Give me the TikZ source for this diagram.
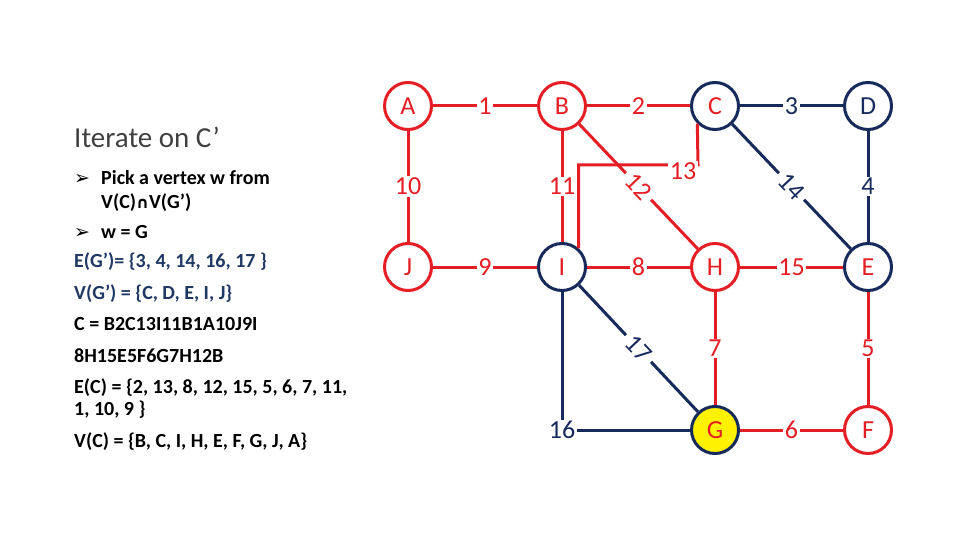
\documentclass[tikz,border=0pt]{standalone}
\usepackage{fontspec}
\setmainfont{Carlito}
\newfontfamily\djv{DejaVu Sans}
\definecolor{gred}{RGB}{228,30,36}
\definecolor{gnavy}{RGB}{22,42,92}
\definecolor{tnavy}{RGB}{31,56,100}
\definecolor{tgray}{RGB}{64,64,64}
\begin{document}
\begin{tikzpicture}[x=1pt,y=-1pt,
  vtx/.style={circle, draw=gred, line width=3pt, fill=white, minimum size=47pt, inner sep=0pt, font=\fontsize{26}{26}\selectfont, text=gred},
  vn/.style={vtx, draw=gnavy},
  rl/.style={draw=gred, line width=3pt},
  nl/.style={draw=gnavy, line width=3pt},
  lbl/.style={fill=white, inner sep=1.5pt, font=\fontsize{26}{26}\selectfont},
  rlbl/.style={lbl, text=gred},
  nlbl/.style={lbl, text=gnavy},
  slp/.style={sloped, inner xsep=5pt, inner ysep=1pt},
  body/.style={anchor=base west, inner sep=0pt, font=\fontsize{20}{24}\selectfont\bfseries},
  bul/.style={anchor=base west, inner sep=0pt, font=\djv\fontsize{19}{19}\selectfont},
]
\useasboundingbox (0,0) rectangle (960,540);

% vertices
\node[vtx] (A) at (408,106) {A};
\node[vtx] (B) at (562,106) {B};
\node[vn]  (C) at (715,106) {C};
\node[vn, text=gnavy] (D) at (868,106) {D};
\node[vtx] (J) at (408,267) {J};
\node[vn]  (I) at (562,267) {I};
\node[vtx] (H) at (715,267) {H};
\node[vn]  (E) at (868,267) {E};
\node[vn, fill=yellow] (G) at (715,430) {G};
\node[vtx] (F) at (868,430) {F};

% edges
\draw[rl] (A) -- node[rlbl] (l1) {1} (B);
\draw[rl] (B) -- node[rlbl] (l2) {2} (C);
\draw[nl] (C) -- node[nlbl] (l3) {3} (D);
\draw[rl] (A) -- node[rlbl] (l10) {10} (J);
\draw[rl] (B) -- node[rlbl] (l11) {11} (I);
\draw[nl] (D) -- node[nlbl] (l4) {4} (E);
\draw[rl] (J) -- node[rlbl] (l9) {9} (I);
\draw[rl] (I) -- node[rlbl] (l8) {8} (H);
\draw[rl] (H) -- node[rlbl] (l15) {15} (E);
\draw[rl] (H) -- node[rlbl] (l7) {7} (G);
\draw[rl] (E) -- node[rlbl] (l5) {5} (F);
\draw[rl] (G) -- node[rlbl] (l6) {6} (F);
\draw[nl] (C) -- node[nlbl, slp] (l14) {14} (E);
\draw[nl] (I) -- node[nlbl, slp] (l17) {17} (G);
\draw[nl] (I) |- node[nlbl] (l16) {16} (G);
\coordinate (k13) at (698,165);
\draw[rl] (I.48) |- (k13) -- (C.225);
\node[rlbl] (l13) at (683,171) {13};
\draw[rl] (B) -- node[rlbl, slp] (l12) {12} (H);

% text panel
\node[anchor=base west, inner sep=0pt, font=\fontsize{29}{29}\selectfont, text=tgray] (title) at (74,148) {Iterate on C’};
\node[bul] (b1) at (74,185) {➢};
\node[body] (t1) at (101,185) {Pick a vertex w from};
\node[body] (t2) at (101,208) {V(C){\djv\fontsize{16}{16}\selectfont ∩}V(G’)};
\node[bul] (b2) at (74,238) {➢};
\node[body] (t3) at (101,238) {w = G};
\node[body, text=tnavy] (t4) at (74,267) {E(G’)= \{3, 4, 14, 16, 17 \}};
\node[body, text=tnavy] (t5) at (74,299) {V(G’) = \{C, D, E, I, J\}};
\node[body] (t6) at (74,330) {C = B2C13I11B1A10J9I};
\node[body] (t7) at (74,362) {8H15E5F6G7H12B};
\node[body] (t8) at (74,393) {E(C) = \{2, 13, 8, 12, 15, 5, 6, 7, 11,};
\node[body] (t9) at (74,415) {1, 10, 9 \}};
\node[body] (t10) at (74,447) {V(C) = \{B, C, I, H, E, F, G, J, A\}};
\end{tikzpicture}
\end{document}
